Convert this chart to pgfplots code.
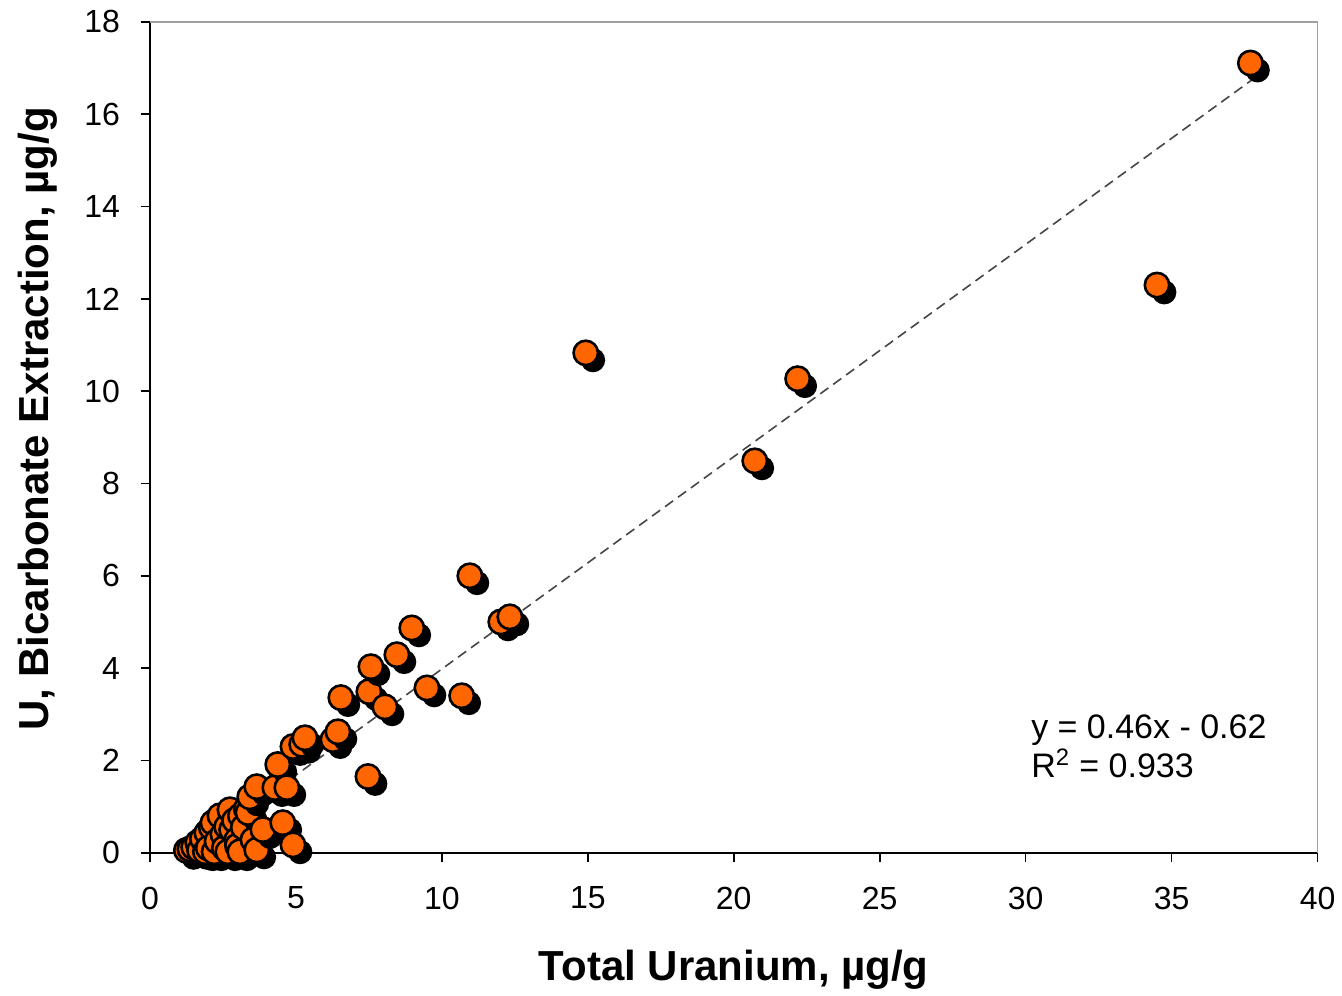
\documentclass[border=0pt]{standalone}
\usepackage{pgfplots}
\pgfplotsset{compat=1.18}
\usepackage{fontspec}
\setmainfont{Liberation Sans}
\definecolor{uorange}{RGB}{255,102,0}
\definecolor{trendgray}{RGB}{70,70,70}
\definecolor{framegray}{RGB}{160,160,160}

% orange dot with a black drop shadow, drawn point by point
\pgfdeclareplotmark{sdot}{%
  \pgfpathcircle{\pgfqpoint{3.6pt}{-3.6pt}}{\pgfplotmarksize}%
  \pgfsetfillcolor{black}\pgfusepathqfill
  \pgfpathcircle{\pgfpointorigin}{\pgfplotmarksize}%
  \pgfsetfillcolor{uorange}\pgfsetstrokecolor{black}\pgfusepathqfillstroke
}

\pgfplotstableread{
x y
1.25 0.05
1.37 0.08
1.50 0.12
1.64 0.22
1.70 0.05
1.80 0.30
1.90 0.02
1.95 0.43
2.00 0.10
2.10 0.55
2.16 0.65
2.20 0.02
2.30 0.25
2.40 0.80
2.50 0.40
2.55 0.10
2.63 0.56
2.67 0.02
2.74 0.93
2.80 0.50
2.90 0.70
2.98 0.28
3.00 0.15
3.08 0.02
3.10 0.80
3.20 0.55
3.30 0.95
3.36 0.87
3.42 1.21
3.53 0.28
3.66 0.06
3.66 1.43
3.87 0.50
4.28 1.41
4.38 1.91
4.55 0.65
4.69 1.41
4.90 0.17
4.90 2.30
5.20 2.35
5.31 2.49
6.27 2.45
6.44 2.62
6.54 3.36
7.47 1.65
7.50 3.49
7.57 4.03
8.05 3.16
8.46 4.29
8.97 4.87
9.49 3.57
10.68 3.40
10.96 6.00
12.02 5.00
12.33 5.11
14.93 10.83
20.72 8.49
22.19 10.27
34.50 12.30
37.70 17.11
}\uranium

\begin{document}
\begin{tikzpicture}
\begin{axis}[
  scale only axis,
  width=584pt, height=415.5pt,
  xmin=0, xmax=40, ymin=0, ymax=18,
  xtick={0,5,...,40}, ytick={0,2,...,18},
  axis x line*=bottom, axis y line*=left,
  axis line style={black, line width=0.8pt},
  tick style={black, line width=0.8pt},
  tick align=outside,
  major tick length=4.5pt,
  ticklabel style={font=\fontsize{16}{19}\selectfont},
  /pgf/number format/assume math mode=true,
  xticklabel style={yshift=-9pt},
  yticklabel style={xshift=-7pt},
  clip=false,
]
  % grey frame on the top and right sides
  \draw[framegray, line width=0.8pt] (rel axis cs:0,1) -- (rel axis cs:1,1) -- (rel axis cs:1,0);
  \addplot[only marks, mark=sdot, mark size=6.1pt, line width=1.3pt] table {\uranium};
  % linear trend
  \addplot[trendgray, dashed, dash pattern=on 5pt off 3pt, line width=0.8pt, domain=1.25:37.9, samples=2] {0.46*x-0.62};
  \node[anchor=west, align=left, font=\fontsize{17}{19.5}\selectfont] at (axis cs:29.95,2.3)
    {y = 0.46x - 0.62\\R\textsuperscript{2} = 0.933};
  \node[font=\bfseries\fontsize{21}{25}\selectfont] at ([yshift=-58.5pt]rel axis cs:0.5,0) {Total Uranium, µg/g};
  \node[font=\bfseries\fontsize{21}{25}\selectfont, rotate=90] at ([xshift=-56pt]rel axis cs:0,0.522) {U, Bicarbonate Extraction, µg/g};
  \coordinate (ll) at (rel axis cs:0,0);
  \coordinate (ur) at (rel axis cs:1,1);
\end{axis}
\path ([shift={(-75pt,-71pt)}]ll) rectangle ([shift={(12pt,11pt)}]ur);
\end{tikzpicture}
\end{document}
